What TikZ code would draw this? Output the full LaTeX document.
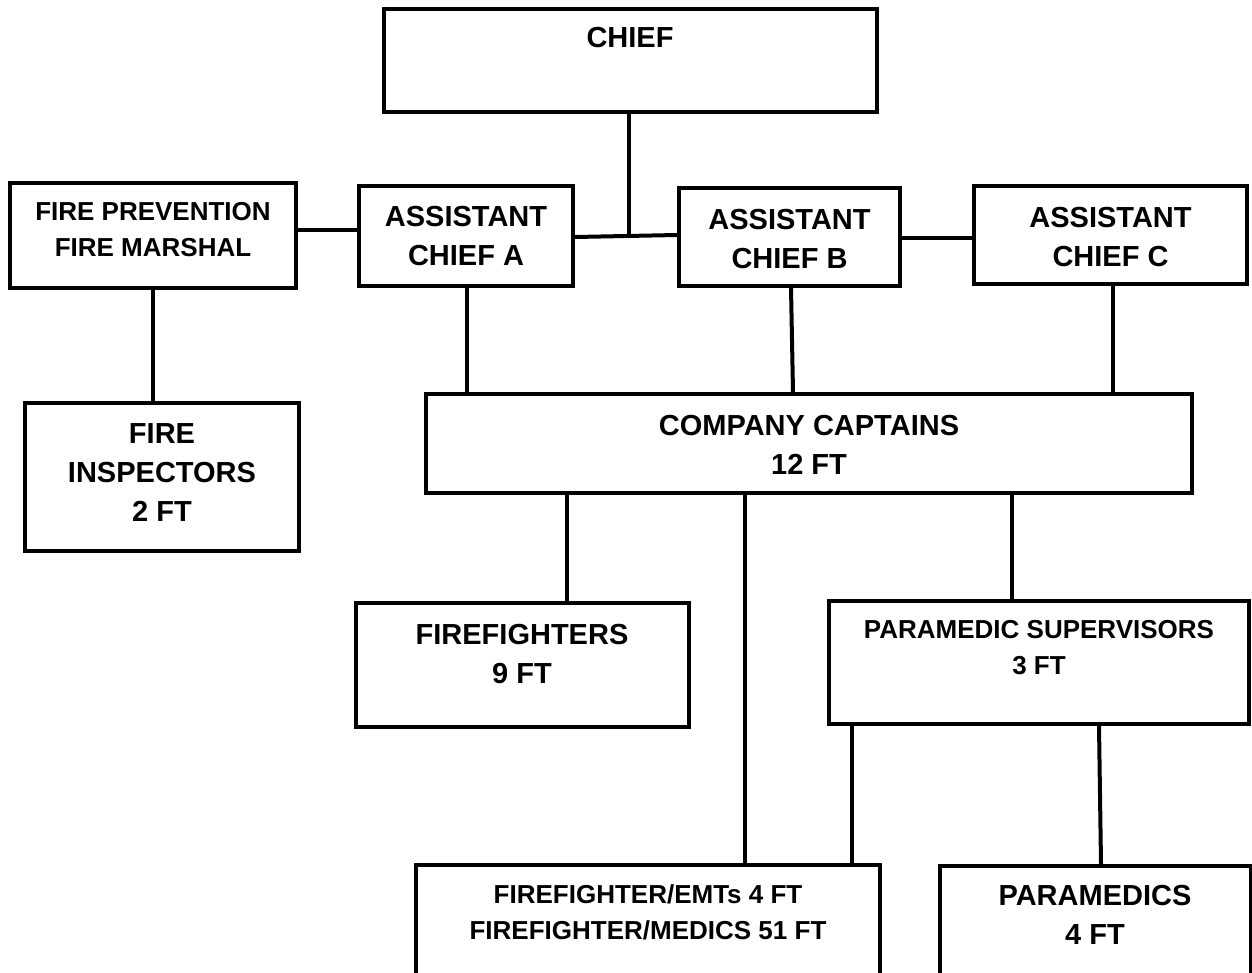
\documentclass[tikz,border=0pt]{standalone}
\usepackage{fontspec}
\setmainfont{Liberation Sans}
\usetikzlibrary{fit}
\begin{document}
\begin{tikzpicture}[x=0.75pt,y=-0.75pt,
  box/.style={draw, line width=3pt, inner sep=0pt, rectangle},
  lbl/.style={inner sep=0pt, anchor=north, align=center, font=\bfseries\fontsize{21.75}{29.25}\selectfont},
  lbls/.style={lbl, font=\bfseries\fontsize{19.5}{27}\selectfont},
  conn/.style={line width=3pt}]
\useasboundingbox (0,0) rectangle (1252,972);
\fill[white] (0,0) rectangle (1252,972);
\clip (0,0) rectangle (1252,972);

% boxes
\node[box, fit={(384,9) (877,112)}] (chief) {};
\node[box, fit={(10,183) (296,288)}] (fp) {};
\node[box, fit={(359,186) (573,286)}] (aa) {};
\node[box, fit={(679,188) (900,286)}] (ab) {};
\node[box, fit={(974,186) (1247,284)}] (ac) {};
\node[box, fit={(25,403) (299,551)}] (fi) {};
\node[box, fit={(426,394) (1192,493)}] (cc) {};
\node[box, fit={(356,603) (689,727)}] (ff) {};
\node[box, fit={(829,601) (1249,724)}] (ps) {};
\node[box, fit={(416,865) (880,995)}] (femt) {};
\node[box, fit={(940,866) (1251,995)}] (pm) {};

% texts
\node[lbl] (tchief) at (630,27) {CHIEF};
\node[lbls] (tfp) at (153,202) {FIRE PREVENTION\\FIRE MARSHAL};
\node[lbl] (taa) at (466,206) {ASSISTANT\\CHIEF A};
\node[lbl] (tab) at (789.5,209) {ASSISTANT\\CHIEF B};
\node[lbl] (tac) at (1110.5,207) {ASSISTANT\\CHIEF C};
\node[lbl] (tfi) at (162,423) {FIRE\\INSPECTORS\\2 FT};
\node[lbl] (tcc) at (809,415) {COMPANY CAPTAINS\\12 FT};
\node[lbl] (tff) at (522,624) {FIREFIGHTERS\\9 FT};
\node[lbls] (tps) at (1039,620) {PARAMEDIC SUPERVISORS\\3 FT};
\node[lbls] (tfemt) at (648,884) {FIREFIGHTER/EMTs 4 FT\\FIREFIGHTER/MEDICS 51 FT};
\node[lbl] (tpm) at (1095,885) {PARAMEDICS\\4 FT};

% connectors
\coordinate (tj) at (629,236);
\draw[conn] (fp.east |- 0,230) -- (aa.west |- 0,230);
\draw[conn] (aa.east |- 0,237) -- (ab.west |- 0,235);
\draw[conn] (ab.east |- 0,238) -- (ac.west |- 0,238);
\draw[conn] (chief.south -| tj) -- (tj);
\draw[conn] (fp.south -| 153,0) -- (fi.north -| 153,0);
\draw[conn] (aa.south -| 467,0) -- (cc.north -| 467,0);
\draw[conn] (ab.south -| 791,0) -- (cc.north -| 793,0);
\draw[conn] (ac.south -| 1113,0) -- (cc.north -| 1113,0);
\draw[conn] (cc.south -| 567,0) -- (ff.north -| 567,0);
\draw[conn] (cc.south -| 745,0) -- (femt.north -| 745,0);
\draw[conn] (cc.south -| 1012,0) -- (ps.north -| 1012,0);
\draw[conn] (ps.south -| 852,0) -- (femt.north -| 852,0);
\draw[conn] (ps.south -| 1099,0) -- (pm.north -| 1101,0);
\end{tikzpicture}
\end{document}
